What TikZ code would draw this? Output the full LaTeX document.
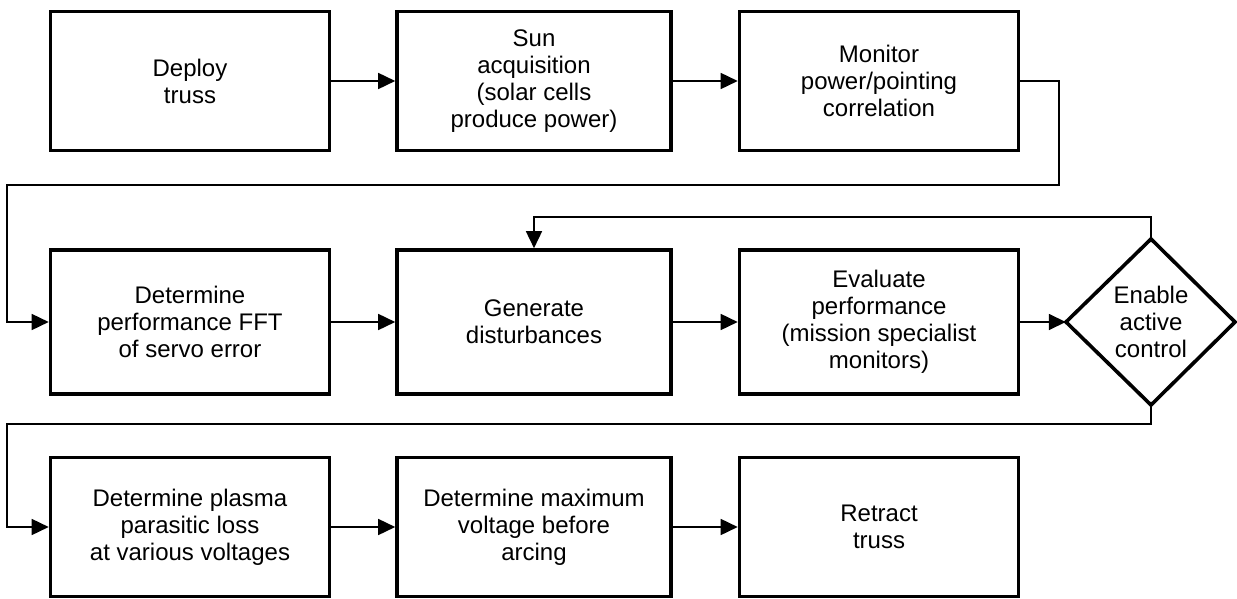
\documentclass[tikz,border=0pt]{standalone}
\usepackage{fontspec}
\setmainfont{Liberation Sans}
\usetikzlibrary{arrows.meta,shapes.geometric}
\begin{document}
\begin{tikzpicture}[x=1pt,y=-1pt,
  stepbox/.style={draw,line width=3.6pt,align=center,inner sep=0pt,
    font=\fontsize{24}{27}\selectfont},
  flow/.style={line width=1.6pt,-{Triangle[length=17pt,width=16pt]}}]
\useasboundingbox (0,0) rectangle (1237,599);
% row 1
\node[stepbox,minimum width=279pt,minimum height=139pt] (b1) at (190,81) {Deploy\\truss};
\node[stepbox,minimum width=274pt,minimum height=139pt] (b2) at (534,81) {Sun\\acquisition\\(solar cells\\produce power)};
\node[stepbox,minimum width=279pt,minimum height=139pt] (b3) at (879,81) {Monitor\\power/pointing\\correlation};
% row 2
\node[stepbox,minimum width=279pt,minimum height=144pt] (b4) at (190,322) {Determine\\performance FFT\\of servo error};
\node[stepbox,minimum width=274pt,minimum height=144pt] (b5) at (534,322) {Generate\\disturbances};
\node[stepbox,minimum width=279pt,minimum height=144pt] (b6) at (879,322) {Evaluate\\performance\\(mission specialist\\monitors)};
\draw[line width=3.6pt,line join=miter] (1151,239) -- (1235,322) -- (1151,405) -- (1066,322) -- cycle;
\node[font=\fontsize{24}{27}\selectfont,align=center,inner sep=0pt,minimum width=170pt,minimum height=166pt] (d) at (1151,322) {Enable\\active\\control};
% row 3
\node[stepbox,minimum width=279pt,minimum height=139pt] (b7) at (190,527) {Determine plasma\\parasitic loss\\at various voltages};
\node[stepbox,minimum width=274pt,minimum height=139pt] (b8) at (534,527) {Determine maximum\\voltage before\\arcing};
\node[stepbox,minimum width=279pt,minimum height=139pt] (b9) at (879,527) {Retract\\truss};
% coordinates
\coordinate (l1) at (1059,185);
\coordinate (l2) at (7,185);
\coordinate (f1) at (1151,217);
\coordinate (g1) at (1151,424);
\coordinate (g2) at (7,424);
% connectors
\draw[flow] (b1.east) -- (b2.west);
\draw[flow] (b2.east) -- (b3.west);
\draw[flow] (b3.east) -| (l1) -- (l2) |- (b4.west);
\draw[flow] (b4.east) -- (b5.west);
\draw[flow] (b5.east) -- (b6.west);
\draw[flow] (b6.east) -- (d.west);
\draw[flow] (d.north) -- (f1) -| (b5.north);
\draw[flow] (d.south) -- (g1) -- (g2) |- (b7.west);
\draw[flow] (b7.east) -- (b8.west);
\draw[flow] (b8.east) -- (b9.west);
\end{tikzpicture}
\end{document}
